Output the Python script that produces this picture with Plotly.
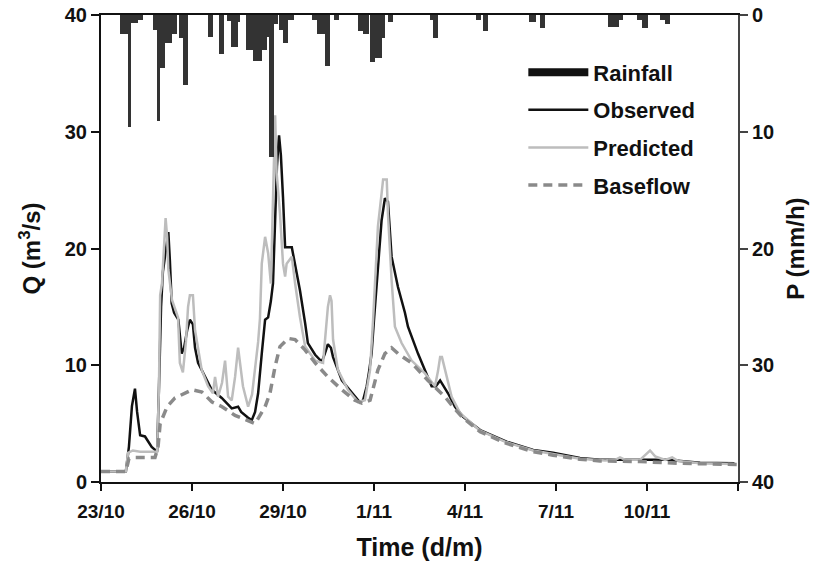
import datetime as dt
import plotly.graph_objects as go

# ---------------- data ----------------
START = dt.datetime(2006, 10, 23)

# observed discharge (time in days since 23/10 00:00, Q in m3/s)
obs_day = [0.00, 0.46, 0.82, 0.92, 1.02, 1.12, 1.19, 1.29, 1.45, 1.67, 1.78, 1.85, 1.91, 1.98,
           2.04, 2.11, 2.22, 2.27, 2.33, 2.41, 2.55, 2.66, 2.74, 2.84, 2.93, 3.03, 3.10, 3.20,
           3.43, 3.65, 3.98, 4.31, 4.52, 4.62, 4.85, 4.97, 5.08, 5.18, 5.30, 5.41, 5.51, 5.60,
           5.67, 5.74, 5.80, 5.87, 5.93, 6.00, 6.07, 6.29, 6.40, 6.56, 6.73, 6.82, 7.06, 7.28,
           7.38, 7.48, 7.58, 7.65, 7.94, 8.27, 8.54, 8.64, 8.76, 8.84, 8.92, 9.00, 9.13, 9.25,
           9.36, 9.46, 9.58, 9.79, 10.02, 10.12, 10.45, 10.68, 10.90, 11.04, 11.18, 11.44,
           11.67, 11.93, 12.50, 13.37, 14.25, 14.90, 15.79, 16.45, 17.54, 18.66, 19.75, 20.88]
obs_q = [0.9, 0.9, 0.9, 3.0, 6.5, 8.0, 6.0, 4.0, 3.9, 3.0, 2.7, 2.6, 8.0, 15.0,
         18.0, 19.5, 21.4, 19.0, 15.3, 14.5, 13.9, 11.0, 11.5, 13.0, 13.9, 13.5, 11.5, 10.2,
         9.0, 7.9, 7.2, 6.3, 6.45, 6.0, 5.5, 5.3, 6.0, 7.6, 11.0, 13.9, 14.1, 15.5,
         17.0, 22.0, 27.0, 29.7, 28.0, 24.4, 20.1, 20.1, 18.7, 16.4, 13.6, 11.9, 10.9, 10.3,
         11.0, 11.8, 11.5, 10.7, 8.7, 7.6, 6.8, 7.0, 8.2, 9.5, 11.0, 13.9, 18.7, 22.4,
         24.3, 24.0, 19.3, 16.7, 14.5, 13.3, 11.0, 9.6, 8.2, 8.2, 8.7, 7.6,
         6.45, 5.6, 4.45, 3.45, 2.74, 2.5, 2.05, 1.9, 1.9, 1.9, 1.65, 1.6]

# predicted discharge
pred_day = [0.00, 0.82, 0.89, 1.05, 1.29, 1.62, 1.85, 1.91, 1.95, 2.01, 2.08, 2.13, 2.18,
            2.22, 2.34, 2.54, 2.60, 2.70, 2.80, 2.87, 2.93, 3.03, 3.10, 3.32, 3.53, 3.69,
            3.76, 3.86, 3.99, 4.09, 4.19, 4.31, 4.42, 4.52, 4.68, 4.85, 4.98, 5.08, 5.18,
            5.24, 5.30, 5.41, 5.51, 5.60, 5.67, 5.74, 5.79, 5.90, 6.00, 6.07, 6.12, 6.29,
            6.40, 6.56, 6.73, 7.06, 7.32, 7.42, 7.48, 7.55, 7.60, 7.65, 7.81, 8.14, 8.47,
            8.70, 8.87, 8.97, 9.03, 9.13, 9.25, 9.30, 9.42, 9.46, 9.58, 9.69, 9.91, 10.24,
            10.68, 11.01, 11.11, 11.18, 11.24, 11.34, 11.56, 11.84, 12.50, 13.37, 14.25,
            14.90, 15.79, 16.62, 16.95, 17.11, 17.28, 17.77, 18.00, 18.10, 18.27, 18.60,
            18.83, 19.03, 19.75, 20.88]
pred_q = [0.9, 0.9, 2.5, 2.7, 2.6, 2.6, 2.6, 8.0, 16.0, 17.0, 20.0, 22.6, 21.0,
          18.2, 15.6, 14.1, 10.2, 9.4, 12.0, 15.0, 16.0, 16.0, 13.0, 9.6, 8.2, 7.6,
          9.0, 7.3, 8.5, 10.4, 7.3, 7.0, 9.0, 11.5, 8.2, 6.45, 7.5, 9.6, 12.0,
          14.0, 18.7, 21.0, 19.6, 17.0, 24.4, 31.4, 26.5, 23.0, 18.7, 17.6, 18.7, 19.3,
          17.0, 14.1, 11.6, 10.4, 10.2, 13.0, 15.0, 16.0, 15.5, 12.2, 9.6, 7.9, 6.85,
          7.0, 9.6, 13.9, 16.7, 21.9, 24.7, 25.9, 25.9, 23.0, 17.3, 13.3, 11.9, 10.4,
          9.3, 8.2, 9.5, 10.7, 10.7, 9.6, 7.3, 5.9, 4.4, 3.4, 2.7,
          2.4, 2.0, 1.85, 1.9, 2.1, 1.9, 1.9, 2.4, 2.7, 2.2, 1.9,
          2.1, 1.8, 1.6, 1.55]

# baseflow
base_day = [0.00, 0.82, 0.92, 1.12, 1.78, 1.88, 1.95, 2.18, 2.44, 3.00, 3.33, 3.66, 3.99,
            4.42, 5.08, 5.41, 5.57, 5.74, 5.90, 6.17, 6.40, 6.73, 7.06, 7.48, 7.94, 8.37,
            8.60, 8.87, 9.13, 9.36, 9.58, 9.79, 10.24, 10.78, 11.34, 11.60, 11.93, 12.50,
            13.37, 14.25, 14.90, 15.79, 16.45, 17.77, 19.09, 20.97]
base_q = [0.9, 0.9, 2.0, 2.1, 2.1, 3.0, 5.0, 6.45, 7.2, 7.9, 7.7, 6.85, 6.45,
          5.7, 5.0, 6.45, 7.6, 9.9, 11.6, 12.3, 12.2, 11.3, 10.2, 9.0, 7.9, 7.0,
          6.75, 7.0, 9.6, 11.0, 11.5, 11.0, 10.2, 8.7, 7.3, 6.45, 5.5, 4.3,
          3.3, 2.6, 2.3, 1.95, 1.8, 1.75, 1.6, 1.5]

# rainfall blocks: start hour since 23/10 00:00, duration (h), intensity (mm/h)
rain_start = [15, 21, 24, 29, 41, 44, 47, 51, 56, 62, 65, 85, 93, 100, 103, 108, 115, 120,
              127, 131, 133, 137, 141, 144, 148, 167, 171, 177, 184, 203, 207, 213, 217,
              222, 227, 260, 263, 297, 302, 339, 347, 401, 410, 424, 428, 442, 446]
rain_dur = [6, 3, 5, 4, 3, 3, 4, 5, 4, 3, 4, 4, 4, 3, 5, 2, 5, 7,
            4, 2, 4, 3, 3, 4, 5, 4, 6, 4, 4, 4, 5, 4, 5,
            3, 4, 3, 4, 4, 4, 5, 4, 9, 3, 4, 5, 4, 4]
rain_mmh = [1.6, 9.6, 0.7, 0.4, 1.3, 9.1, 4.5, 2.4, 1.6, 2.0, 6.0, 1.9, 3.3, 0.5, 2.7, 0.6, 3.0, 3.9,
            3.0, 1.9, 12.2, 0.8, 1.3, 2.4, 0.4, 0.4, 1.6, 4.4, 0.4, 1.4, 1.6, 4.0, 3.7,
            2.0, 0.6, 0.4, 2.0, 0.4, 1.4, 0.6, 1.1, 1.0, 0.4, 0.4, 1.1, 0.4, 0.8]

tick_days = [0, 3, 6, 9, 12, 15, 18, 21]
tick_labels = ["23/10", "26/10", "29/10", "1/11", "4/11", "7/11", "10/11", ""]
q_ticks = [0, 10, 20, 30, 40]
p_ticks = [0, 10, 20, 30, 40]

# ---------------- figure ----------------
def to_time(days):
    return [START + dt.timedelta(days=d) for d in days]

rain_x = [START + dt.timedelta(hours=s + d / 2) for s, d in zip(rain_start, rain_dur)]
rain_w = [d * 3600 * 1000 for d in rain_dur]

FONT = "Liberation Sans"
fig = go.Figure()

fig.add_trace(go.Scatter(x=to_time(obs_day), y=obs_q, mode="lines", name="Observed",
                         line=dict(color="#111111", width=2.5), legendgroup="b", legendrank=2))
fig.add_trace(go.Scatter(x=to_time(pred_day), y=pred_q, mode="lines", name="Predicted",
                         line=dict(color="#bdbdbd", width=2.5), legendgroup="c", legendrank=3))
fig.add_trace(go.Scatter(x=to_time(base_day), y=base_q, mode="lines", name="Baseflow",
                         line=dict(color="#8a8a8a", width=3.5, dash="9px,6px"),
                         legendgroup="d", legendrank=4))
fig.add_trace(go.Bar(x=rain_x, y=rain_mmh, width=rain_w, yaxis="y2", name="Rainfall",
                     marker=dict(color="#333333", line=dict(width=0)), showlegend=False))
# legend entry for rainfall as a thick line
fig.add_trace(go.Scatter(x=[None], y=[None], mode="lines", name="Rainfall",
                         line=dict(color="#111111", width=8), legendgroup="a", legendrank=1))

fig.update_layout(
    width=817, height=569,
    margin=dict(l=101, r=79, t=15, b=87, autoexpand=False),
    plot_bgcolor="white", paper_bgcolor="white",
    font=dict(family=FONT, color="#111111", size=19, weight="bold"),
    showlegend=True,
    legend=dict(x=0.663, y=0.922, xanchor="left", yanchor="top", itemwidth=60,
                bgcolor="rgba(0,0,0,0)", font=dict(size=22, family=FONT, weight="bold"),
                traceorder="grouped", tracegroupgap=6),
    bargap=0,
    xaxis=dict(type="date", range=[START, START + dt.timedelta(days=21)],
               tickvals=to_time(tick_days), ticktext=tick_labels, automargin=False,
               ticks="outside", ticklen=7, tickwidth=2, tickcolor="#111111",
               ticklabelstandoff=4,
               showline=True, linecolor="#111111", linewidth=2, mirror=True,
               showgrid=False, zeroline=False,
               tickfont=dict(size=19, family=FONT, weight="bold"),
               title=dict(text="Time (d/m)", font=dict(size=25, family=FONT, weight="bold"),
                          standoff=18)),
    yaxis=dict(range=[0, 40], tickvals=q_ticks, ticks="outside", ticklen=8, tickwidth=2,
               tickcolor="#111111", showline=True, linecolor="#111111", linewidth=2,
               showgrid=False, zeroline=False, automargin=False,
               tickfont=dict(size=20, family=FONT, weight="bold"),
               title=dict(text="Q (m<sup>3</sup>/s)", font=dict(size=24, family=FONT, weight="bold"),
                          standoff=17)),
    yaxis2=dict(range=[40, 0], overlaying="y", side="right", tickvals=p_ticks,
                ticks="outside", ticklen=8, tickwidth=2, tickcolor="#444444",
                showline=True, linecolor="#444444", linewidth=2, automargin=False,
                showgrid=False, zeroline=False,
                tickfont=dict(size=20, family=FONT, weight="bold"),
                title=dict(text="P (mm/h)", font=dict(size=24, family=FONT, weight="bold"),
                           standoff=14)),
)

fig.write_html("out.html", config={"displayModeBar": False},
               post_script="document.body.style.margin='0';document.body.style.padding='0';")
